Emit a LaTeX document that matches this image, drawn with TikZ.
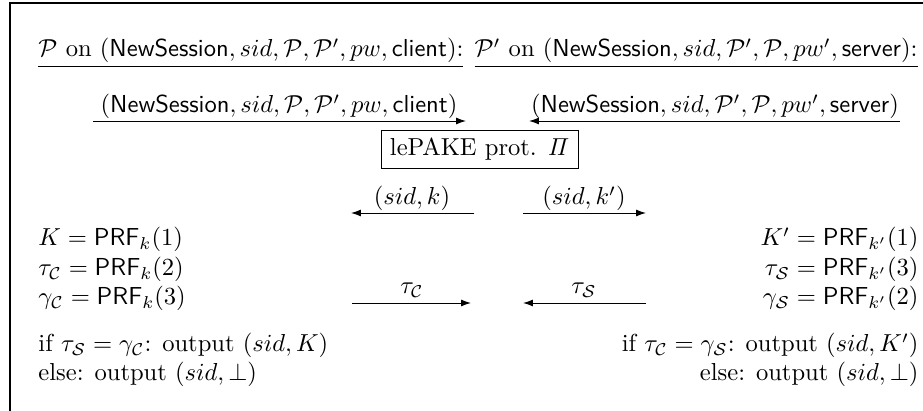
\documentclass[tikz,border=0pt]{standalone}
\usetikzlibrary{arrows.meta}
\begin{document}
\begin{tikzpicture}[x=0.407pt,y=-0.407pt,
  frame/.style={line width=0.5pt},
  msg/.style={line width=0.4pt,-{Latex[length=4pt,width=2.8pt]}},
  lbl/.style={anchor=base,inner sep=0pt},
  lrow/.style={anchor=base west,inner sep=0pt},
  rrow/.style={anchor=base east,inner sep=0pt},
  protbox/.style={draw,line width=0.4pt,inner sep=3.3pt,anchor=base}]
\useasboundingbox (0,0) rectangle (923,411);
% frame
\coordinate (ftr) at (923,3);
\coordinate (ftl) at (10,3);
\coordinate (fbl) at (10,411);
\draw[frame] (ftr) -- (ftl) -- (fbl);
% headers
\node[lrow] (hl) at (38,57) {\underline{$\mathcal{P}$ on $(\textsf{NewSession}, sid, \mathcal{P}, \mathcal{P}', pw, \textsf{client})$:}};
\node[rrow] (hr) at (918,57) {\underline{$\mathcal{P}'$ on $(\textsf{NewSession}, sid, \mathcal{P}', \mathcal{P}, pw', \textsf{server})$:}};
% NewSession messages
\coordinate (a1s) at (93,121);
\coordinate (a1e) at (466,121);
\draw[msg] (a1s) -- (a1e);
\node[lbl] (l1) at (279,113) {$(\textsf{NewSession}, sid, \mathcal{P}, \mathcal{P}', pw, \textsf{client})$};
\coordinate (a2s) at (900,121);
\coordinate (a2e) at (529,121);
\draw[msg] (a2s) -- (a2e);
\node[lbl] (l2) at (715,113) {$(\textsf{NewSession}, sid, \mathcal{P}', \mathcal{P}, pw', \textsf{server})$};
% protocol box
\node[protbox] (box) at (480,156) {lePAKE prot. $\mathit{\Pi}$};
% outputs of the protocol
\coordinate (k1s) at (474,213);
\coordinate (k1e) at (351,213);
\draw[msg] (k1s) -- (k1e);
\node[lbl] (lk1) at (412,205) {$(sid, k)$};
\coordinate (k2s) at (523,213);
\coordinate (k2e) at (646,213);
\draw[msg] (k2s) -- (k2e);
\node[lbl] (lk2) at (584,205) {$(sid, k')$};
% tags
\coordinate (t1s) at (352,303);
\coordinate (t1e) at (471,303);
\draw[msg] (t1s) -- (t1e);
\node[lbl] (lt1) at (412,294) {$\tau_{\mathcal{C}}$};
\coordinate (t2s) at (646,303);
\coordinate (t2e) at (523,303);
\draw[msg] (t2s) -- (t2e);
\node[lbl] (lt2) at (584,294) {$\tau_{\mathcal{S}}$};
% client computations
\node[lrow] (c1) at (38,246) {$K = \textsf{PRF}_k(1)$};
\node[lrow] (c2) at (38,276) {$\tau_{\mathcal{C}} = \textsf{PRF}_k(2)$};
\node[lrow] (c3) at (38,305) {$\gamma_{\mathcal{C}} = \textsf{PRF}_k(3)$};
\node[lrow] (c4) at (38,352) {if $\tau_{\mathcal{S}} = \gamma_{\mathcal{C}}$: output $(sid, K)$};
\node[lrow] (c5) at (38,381) {else: output $(sid, \bot)$};
% server computations
\node[rrow] (s1) at (919,246) {$K' = \textsf{PRF}_{k'}(1)$};
\node[rrow] (s2) at (919,276) {$\tau_{\mathcal{S}} = \textsf{PRF}_{k'}(3)$};
\node[rrow] (s3) at (919,305) {$\gamma_{\mathcal{S}} = \textsf{PRF}_{k'}(2)$};
\node[rrow] (s4) at (919,352) {if $\tau_{\mathcal{C}} = \gamma_{\mathcal{S}}$: output $(sid, K')$};
\node[rrow] (s5) at (919,381) {else: output $(sid, \bot)$};
\end{tikzpicture}
\end{document}
